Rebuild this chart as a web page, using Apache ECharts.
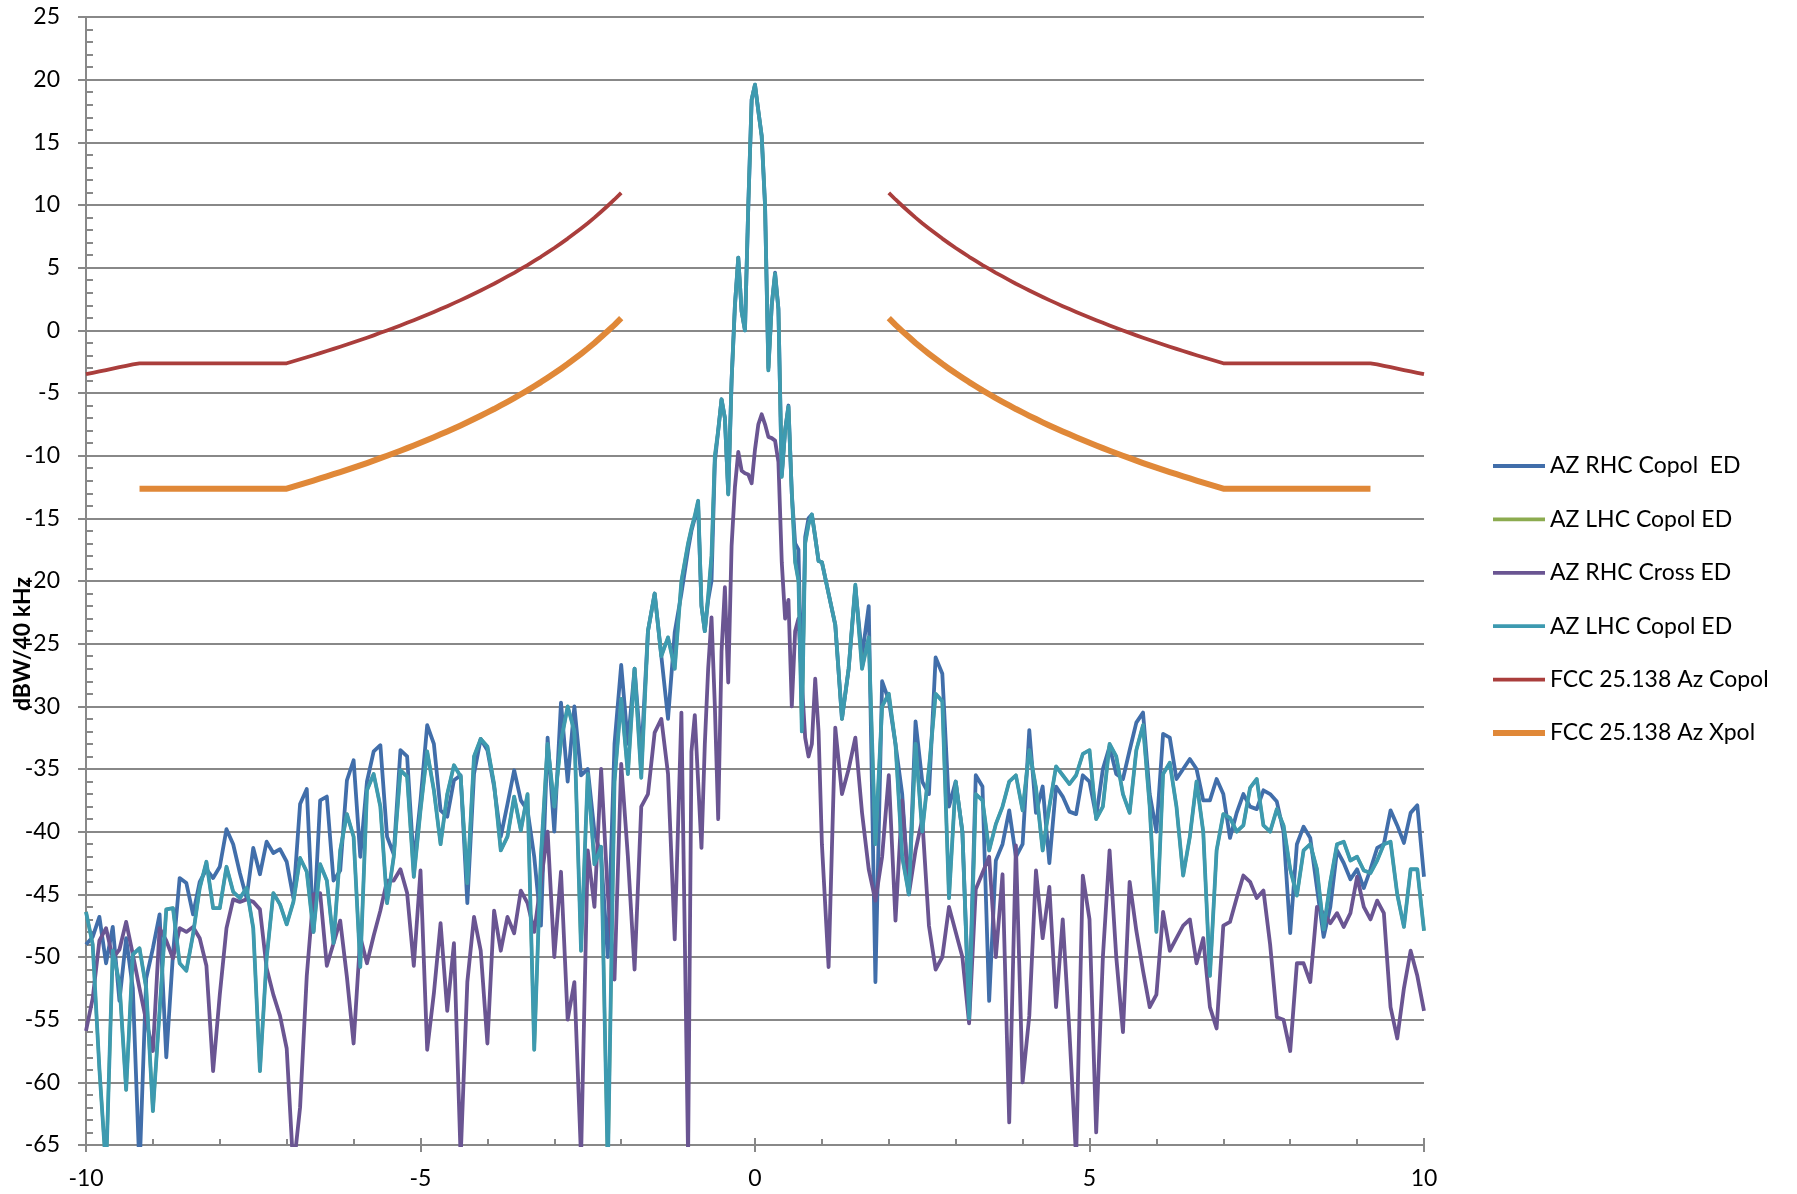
<!DOCTYPE html>
<html><head><meta charset="utf-8">
<script src="https://cdn.jsdelivr.net/npm/echarts@6/dist/echarts.min.js"></script>
<style>html,body{margin:0;padding:0;background:#fff}#c{width:1797px;height:1194px}</style>
</head><body><div id="c"></div>
<script>
// Angle grid (deg): -10.0..-1.1 step 0.1, -1.00..1.00 step 0.05, 1.1..10.0 step 0.1
const angles = [];
for (let i = 0; i < 90; i++) angles.push(+(-10 + i * 0.1).toFixed(2));
for (let i = 0; i <= 40; i++) angles.push(+(-1 + i * 0.05).toFixed(2));
for (let i = 1; i <= 90; i++) angles.push(+(1 + i * 0.1).toFixed(2));

const rhcCopol = [
-49.0,-48.4,-46.8,-50.5,-47.6,-53.5,-48.5,-52.5,-67,-51.7,
-49.3,-46.6,-58,-49.8,-43.7,-44.1,-46.6,-44,-43,-43.7,
-42.8,-39.8,-41,-43.3,-45.3,-41.3,-43.4,-40.8,-41.7,-41.4,
-42.4,-45.3,-37.8,-36.6,-48,-37.5,-37.2,-43.9,-43.1,-35.9,
-34.3,-42,-36,-33.6,-33.1,-40.4,-41.8,-33.5,-34,-42.6,
-37.5,-31.5,-33,-38.3,-38.8,-35.9,-35.5,-45.7,-35.4,-32.6,
-33.5,-36.4,-40.4,-37.8,-35.1,-37.5,-38.3,-42,-47.5,-32.5,
-40,-29.7,-36,-30,-35.5,-35,-40,-42,-50,-33,
-26.7,-33,-27,-34,-24,-21,-26,-31,-24.1,-21,
-17.5,-16,-15,-14,-22,-24,-21.5,-20,-10.5,-8,-5.5,-7,-13,-4,2,5.8,1.5,0,10,18.4,
19.6,
17.5,15.5,10,-3,2,4.6,1.7,-11.5,-8,-6,-13,-17,-17.5,-30,-16.5,-15,-14.7,-16.5,-18.4,-18.5,
-21,-23.5,-31,-27,-20.5,-26,-22,-52,-28,-29.5,
-33,-37,-45,-31.2,-36,-37,-26.1,-27.4,-38,-36,
-40,-54.5,-35.5,-36.4,-53.5,-42.3,-41,-38.3,-42,-41,
-31.9,-38.5,-36.4,-42.5,-36.4,-37.2,-38.4,-38.6,-35.5,-36,
-38.8,-35,-33.2,-35.4,-35.8,-33.5,-31.3,-30.5,-37,-40,
-32.2,-32.5,-35.8,-35,-34.2,-35,-37.5,-37.5,-35.8,-37,
-40.5,-38.5,-37,-38,-38.2,-36.7,-37,-37.6,-40,-48.1,
-41,-39.6,-40.5,-44.5,-48.4,-46,-41.5,-42.5,-43.8,-43,
-44.5,-43,-41.3,-41,-38.3,-39.5,-40.9,-38.5,-37.9,-43.6
];

const lhcCopol = [
-46.4,-49,-58.9,-67,-49.5,-52.1,-60.6,-49.8,-49.3,-52.5,
-62.3,-54.3,-46.2,-46.1,-50.5,-51.1,-48.2,-44.5,-42.4,-46.1,
-46.1,-42.8,-44.8,-45.3,-44.5,-47.7,-59.1,-50.1,-44.9,-45.8,
-47.4,-45.6,-42.1,-43.2,-48,-42.6,-43.9,-48.9,-41.5,-38.6,
-40.4,-50.8,-36.7,-35.4,-38,-45.7,-42,-35.1,-35.6,-43.6,
-38.3,-33.6,-36.7,-41,-37,-34.7,-35.6,-44.1,-34,-32.6,
-33.2,-36.2,-41.5,-40.4,-37.2,-39.9,-37,-57.4,-42,-33,
-38,-32.8,-30,-32,-49.5,-35.4,-42.6,-41.2,-67,-36,
-29.4,-35.4,-27,-35.7,-24,-21,-26,-24.5,-27,-20,
-17,-15.8,-14.8,-13.6,-22,-24,-21.2,-18,-10,-8,-5.5,-7,-13.1,-4,2,5.8,1.5,0,10,18.4,
19.6,
17.5,15.5,10,-3.2,2,4.5,1.7,-11.7,-8,-6.1,-13,-18.5,-20,-32,-17,-15.5,-14.7,-16.5,-18.4,-18.5,
-21,-23.5,-31,-27,-20.3,-27,-24.5,-41,-30,-29,
-33,-42,-45,-33,-40,-35,-29,-29.6,-45.3,-36,
-40,-54.9,-37,-37.5,-41.5,-39.4,-38,-36,-35.5,-38.3,
-33.5,-36.5,-41.5,-38,-34.8,-35.5,-36.2,-35.5,-33.8,-33.5,
-39,-38,-33,-34,-37,-38.5,-33.5,-31.5,-38,-48,
-35.4,-34.5,-38,-43.5,-40.4,-36,-40,-51.5,-41.5,-38.6,
-38.9,-40,-39.5,-36.5,-35.8,-39.5,-40,-38.2,-39.5,-43,
-45.1,-41.5,-41,-43,-47.8,-44,-41,-40.8,-42.3,-42,
-43.1,-43.3,-42.3,-41,-40.8,-45,-47.6,-43,-43,-47.9
];

const rhcCross = [
-55.9,-53.3,-48.7,-47.7,-50.1,-49.4,-47.2,-49.8,-52.5,-55.1,
-57.5,-47.7,-48.7,-50.1,-47.7,-48,-47.6,-48.5,-50.7,-59.1,
-53,-47.7,-45.4,-45.6,-45.4,-45.6,-46.2,-50.9,-53,-54.7,
-57.3,-67,-62,-51.5,-45,-44.9,-50.7,-48.9,-47.1,-51.6,
-56.9,-48.4,-50.5,-48.3,-46.3,-43.9,-43.9,-43,-44.9,-50.7,
-43.1,-57.4,-52.9,-47.3,-54.3,-48.9,-66,-52,-46.8,-49.5,
-56.9,-46.3,-49.5,-46.8,-48.1,-44.7,-45.7,-48,-44,-40,
-50,-43.2,-55,-52,-66,-41.5,-46,-35,-45,-51.8,
-34.6,-42,-51,-38,-37,-32.1,-31,-35.4,-48.6,-30.5,
-66,-33.6,-30.7,-36,-41.3,-33,-27,-22.9,-30,-39,-25.6,-20.5,-28.1,-17.2,-12.5,-9.7,-11.2,-11.4,-11.5,-12.2,
-9.5,
-7.5,-6.7,-7.5,-8.5,-8.6,-8.8,-10.5,-18.5,-23,-21.5,-30,-24,-23,-28,-32.5,-34,-33,-27.8,-32,-41,
-50.8,-31.7,-37,-35,-32.5,-38.5,-43,-45.5,-42,-35.5,
-47.1,-37.5,-45,-41.5,-39,-47.5,-51,-50,-46,-48,
-50,-55.3,-44.6,-43.3,-42,-50,-43.4,-63.2,-41.1,-60,
-54.7,-43.1,-48.5,-44.4,-54,-47,-56,-66,-43.5,-47,
-64,-50,-41.5,-50,-56,-44,-47.9,-51.1,-54,-53,
-46.4,-49.5,-48.5,-47.5,-47,-50.5,-48.5,-54,-55.7,-47.5,
-47.2,-45.3,-43.5,-44,-45.3,-44.7,-49,-54.8,-55,-57.5,
-50.5,-50.5,-52,-46,-46.5,-47.3,-46.5,-47.6,-46.5,-43.6,
-46,-47,-45.5,-46.5,-54,-56.5,-52.5,-49.5,-51.5,-54.3
];

// FCC 25.138 masks, read at |angle| = 2.0, 2.1, ... (step 0.1)
const fccCopol = [
10.97,10.44,9.94,9.46,8.99,8.55,8.13,7.72,7.32,6.94,
6.57,6.22,5.87,5.54,5.21,4.90,4.59,4.30,4.01,3.72,
3.45,3.18,2.92,2.66,2.41,2.17,1.93,1.70,1.47,1.25,
1.03,0.81,0.60,0.39,0.19,-0.01,-0.20,-0.40,-0.59,-0.77,
-0.95,-1.13,-1.31,-1.48,-1.65,-1.82,-1.99,-2.15,-2.31,-2.47,
-2.63,-2.63,-2.63,-2.63,-2.63,-2.63,-2.63,-2.63,-2.63,-2.63,
-2.63,-2.63,-2.63,-2.63,-2.63,-2.63,-2.63,-2.63,-2.63,-2.63,
-2.63,-2.63,-2.63,-2.71,-2.83,-2.94,-3.06,-3.17,-3.28,-3.39,-3.50
];
const fccXpol = [
0.97,0.44,-0.06,-0.54,-1.01,-1.45,-1.87,-2.28,-2.68,-3.06,
-3.43,-3.78,-4.13,-4.46,-4.79,-5.10,-5.41,-5.70,-5.99,-6.28,
-6.55,-6.82,-7.08,-7.34,-7.59,-7.83,-8.07,-8.30,-8.53,-8.75,
-8.97,-9.19,-9.40,-9.61,-9.81,-10.01,-10.20,-10.40,-10.59,-10.77,
-10.95,-11.13,-11.31,-11.48,-11.65,-11.82,-11.99,-12.15,-12.31,-12.47,
-12.63,-12.63,-12.63,-12.63,-12.63,-12.63,-12.63,-12.63,-12.63,-12.63,
-12.63,-12.63,-12.63,-12.63,-12.63,-12.63,-12.63,-12.63,-12.63,-12.63,
-12.63,-12.63,-12.63
];

const seriesNames = ['AZ RHC Copol  ED', 'AZ LHC Copol ED', 'AZ RHC Cross ED', 'AZ LHC Copol ED ', 'FCC 25.138 Az Copol', 'FCC 25.138 Az Xpol'];
const yTicks = { min: -65, max: 25, step: 5 };
const xTicks = { min: -10, max: 10, step: 5 };

function pairs(vals) { return angles.map((a, i) => [a, vals[i]]); }
function maskPairs(vals) {
  const left = [], right = [];
  vals.forEach((v, i) => {
    const a = +(2 + i * 0.1).toFixed(1);
    left.unshift([-a, v]);
    right.push([a, v]);
  });
  return left.concat([[0, '-']], right);
}

const FONT = 'Lato, "DejaVu Sans", sans-serif';
const AX = '#888888';
const THIN = 'path://M0,0H52V3.8H0Z';
const THICK = 'path://M0,0H52V6H0Z';

function lineSeries(name, data, color, width) {
  return { name, type: 'line', data, symbol: 'none', showSymbol: false, clip: true,
    connectNulls: false, lineStyle: { color, width, join: 'round' }, itemStyle: { color },
    emphasis: { disabled: true }, animation: false };
}

const chart = echarts.init(document.getElementById('c'));
chart.setOption({
  animation: false,
  backgroundColor: '#fff',
  grid: { left: 86, right: 373, top: 17, bottom: 49, containLabel: false, outerBoundsMode: 'none' },
  xAxis: [
    { type: 'value', min: xTicks.min, max: xTicks.max, interval: xTicks.step, position: 'bottom',
      axisLine: { show: true, onZero: false, lineStyle: { color: AX, width: 2 } },
      axisTick: { show: true, inside: true, length: 7, lineStyle: { color: AX, width: 2 } },
      minorTick: { show: true, splitNumber: 5, length: 6, lineStyle: { color: AX, width: 2 } },
      axisLabel: { show: false }, splitLine: { show: false } },
    { type: 'value', min: xTicks.min, max: xTicks.max, interval: xTicks.step, position: 'bottom',
      axisLine: { show: true, onZero: false, lineStyle: { color: AX, width: 2 } },
      axisTick: { show: true, inside: false, length: 7, lineStyle: { color: AX, width: 2 } },
      axisLabel: { show: true, margin: 22, fontSize: 23, fontFamily: FONT, color: '#000' },
      splitLine: { show: false } }
  ],
  yAxis: [
    { type: 'value', min: yTicks.min, max: yTicks.max, interval: yTicks.step, position: 'left',
      axisLine: { show: true, onZero: false, lineStyle: { color: AX, width: 2 } },
      axisTick: { show: true, inside: true, length: 7, lineStyle: { color: AX, width: 2 } },
      minorTick: { show: true, splitNumber: 5, length: 7, lineStyle: { color: AX, width: 2 } },
      axisLabel: { show: false },
      splitLine: { show: true, lineStyle: { color: AX, width: 2.2 } } },
    { type: 'value', min: yTicks.min, max: yTicks.max, interval: yTicks.step, position: 'left',
      axisLine: { show: true, onZero: false, lineStyle: { color: AX, width: 2 } },
      axisTick: { show: true, inside: false, length: 8, lineStyle: { color: AX, width: 2 } },
      axisLabel: { show: true, margin: 26, fontSize: 23, fontFamily: FONT, color: '#000' },
      splitLine: { show: false } }
  ],
  legend: {
    orient: 'vertical', left: 1488, top: 449, itemWidth: 52, itemHeight: 6, itemGap: 29.4,
    selectedMode: false, symbolKeepAspect: true,
    data: seriesNames.map((n, i) => ({ name: n, icon: i === 5 ? THICK : THIN })),
    textStyle: { fontFamily: FONT, fontSize: 23, color: '#000', lineHeight: 24 }
  },
  graphic: [{
    type: 'text', x: 23, y: 644, rotation: Math.PI / 2,
    style: { text: 'dBW/40 kHz', fontFamily: FONT, fontWeight: 'bold', fontSize: 23,
      fill: '#000', align: 'center', verticalAlign: 'middle' }
  }],
  series: [
    lineSeries(seriesNames[0], pairs(rhcCopol), '#416EAA', 3.8),
    lineSeries(seriesNames[1], pairs(lhcCopol), '#8CAB4F', 3.2),
    lineSeries(seriesNames[2], pairs(rhcCross), '#6A5592', 3.8),
    lineSeries(seriesNames[3], pairs(lhcCopol), '#3D9AB0', 3.8),
    lineSeries(seriesNames[4], maskPairs(fccCopol), '#AA3E3C', 3.8),
    lineSeries(seriesNames[5], maskPairs(fccXpol), '#E08838', 6)
  ]
});
</script></body></html>
